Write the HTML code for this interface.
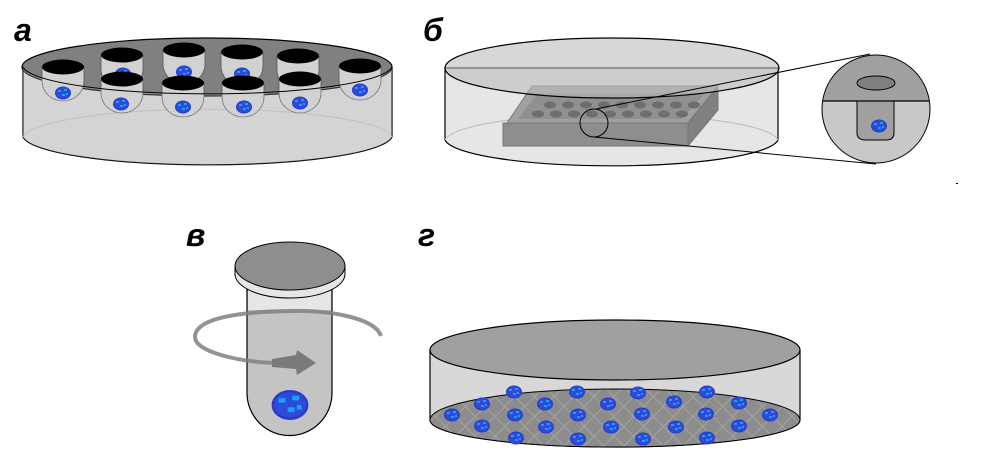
<!DOCTYPE html>
<html><head><meta charset="utf-8"><style>
html,body{margin:0;padding:0;background:#fff}
svg{display:block}
text{font-family:"Liberation Sans",sans-serif;font-weight:bold;font-style:italic;font-size:32px;fill:#000}
</style></head><body>
<svg width="1002" height="466" viewBox="0 0 1002 466" xmlns="http://www.w3.org/2000/svg">
<defs>
<g id="cell"><ellipse cx="0" cy="0" rx="7.5" ry="6" fill="#2d4bd6" stroke="#2a3ac8" stroke-width="1"/><rect x="-5" y="-3" width="3" height="2" fill="#1aa0ff"/><rect x="1" y="-4" width="3" height="2" fill="#1aa0ff"/><rect x="-1" y="1" width="3" height="2" fill="#1aa0ff"/><rect x="3" y="0" width="2" height="2" fill="#1aa0ff"/></g>
<pattern id="grid" width="14" height="14" patternUnits="userSpaceOnUse" patternTransform="rotate(45)"><rect width="14" height="14" fill="#8c8c8c"/><path d="M0 0H14M0 0V14" stroke="#a4a4a4" stroke-width="2"/></pattern>
<g id="cup"><path d="M-21 0V14A21 20 0 0 0 21 14V0Z" fill="#d2d2d2" stroke="#555" stroke-width="0.8"/><ellipse cx="0" cy="0" rx="21" ry="7.5" fill="#000"/></g>
</defs>
<!-- а -->
<text x="14" y="41">а</text>
<path d="M23 67V137A185 30 0 0 0 392 137V67Z" fill="#d4d4d4" stroke="#000" stroke-width="1.2"/>
<path d="M23 137A185 30 0 0 1 392 137" fill="none" stroke="#bbb"/>
<ellipse cx="207" cy="67" rx="185" ry="29" fill="#808080" stroke="#000" stroke-width="1.2"/>
<use href="#cup" x="122" y="55"/><use href="#cup" x="184" y="50"/><use href="#cup" x="242" y="52"/><use href="#cup" x="298" y="56"/>
<use href="#cell" x="123" y="74"/><use href="#cell" x="184" y="72"/><use href="#cell" x="242" y="74"/>
<use href="#cup" x="63" y="67"/><use href="#cup" x="122" y="79"/><use href="#cup" x="183" y="83"/><use href="#cup" x="243" y="83"/><use href="#cup" x="300" y="79"/><use href="#cup" x="360" y="66"/>
<path d="M23 67A185 29 0 0 0 392 67V137A185 30 0 0 1 23 137Z" fill="#d4d4d4" fill-opacity="0.25"/>
<use href="#cell" x="63" y="93"/><use href="#cell" x="121" y="104"/><use href="#cell" x="183" y="107"/><use href="#cell" x="244" y="107"/><use href="#cell" x="300" y="103"/><use href="#cell" x="360" y="90"/>
<path d="M23 67A185 29 0 0 0 392 67" fill="none" stroke="#000" stroke-width="1"/>
<!-- б -->
<text x="423" y="41">б</text>
<path d="M445 68V140A167 28 0 0 0 778 140V68Z" fill="#e6e6e6" stroke="#000" stroke-width="1.2"/>
<path d="M445 140A167 28 0 0 1 778 140" fill="none" stroke="#bbb"/>
<path d="M507 123L532 86H718L688 123Z" fill="#a0a0a0" stroke="#777"/>
<path d="M518 119L538 93H705L682 119Z" fill="#909090"/>
<g fill="#6e6e6e"><ellipse cx="550" cy="105" rx="6" ry="3.5"/><ellipse cx="568" cy="105" rx="6" ry="3.5"/><ellipse cx="586" cy="105" rx="6" ry="3.5"/><ellipse cx="604" cy="105" rx="6" ry="3.5"/><ellipse cx="622" cy="105" rx="6" ry="3.5"/><ellipse cx="640" cy="105" rx="6" ry="3.5"/><ellipse cx="658" cy="105" rx="6" ry="3.5"/><ellipse cx="676" cy="105" rx="6" ry="3.5"/><ellipse cx="694" cy="105" rx="6" ry="3.5"/>
<ellipse cx="538" cy="114" rx="6" ry="3.5"/><ellipse cx="556" cy="114" rx="6" ry="3.5"/><ellipse cx="574" cy="114" rx="6" ry="3.5"/><ellipse cx="592" cy="114" rx="6" ry="3.5"/><ellipse cx="610" cy="114" rx="6" ry="3.5"/><ellipse cx="628" cy="114" rx="6" ry="3.5"/><ellipse cx="646" cy="114" rx="6" ry="3.5"/><ellipse cx="664" cy="114" rx="6" ry="3.5"/><ellipse cx="682" cy="114" rx="6" ry="3.5"/></g>
<rect x="503" y="123" width="185" height="23" fill="#8e8e8e" stroke="#777"/>
<path d="M688 123L718 86V110L688 146Z" fill="#808080" stroke="#777"/>
<ellipse cx="612" cy="68" rx="167" ry="30" fill="#bdbdbd" fill-opacity="0.6" stroke="#000" stroke-width="1.2"/>
<circle cx="594" cy="123" r="14" fill="none" stroke="#000"/>
<line x1="596" y1="109" x2="870" y2="54" stroke="#000"/>
<line x1="594" y1="137" x2="876" y2="164" stroke="#000"/>
<clipPath id="cc"><circle cx="876" cy="109" r="54"/></clipPath>
<g clip-path="url(#cc)"><rect x="820" y="50" width="112" height="51" fill="#a0a0a0"/><rect x="820" y="101" width="112" height="70" fill="#c8c8c8"/>
<ellipse cx="876" cy="83" rx="19" ry="7" fill="#808080" stroke="#000"/>
<path d="M857 101V133Q857 140 866 140H886Q894 140 894 133V101" fill="#a0a0a0" stroke="#000"/>
<line x1="820" y1="101" x2="932" y2="101" stroke="#000" stroke-width="1.2"/></g>
<circle cx="876" cy="109" r="54" fill="none" stroke="#000"/>
<use href="#cell" x="879" y="126"/>
<rect x="956" y="183" width="2" height="1" fill="#000"/>
<!-- в -->
<text x="186" y="246">в</text>
<path d="M247 290V393A42 42 0 0 0 332 393V290Z" fill="#c4c4c4" stroke="#000" stroke-width="1.2"/>
<rect x="248" y="290" width="83" height="20" fill="#e6e6e6"/>
<path d="M235 266V274A55 24 0 0 0 345 274V266Z" fill="#e6e6e6" stroke="#000"/>
<ellipse cx="290" cy="266" rx="55" ry="24" fill="#8e8e8e" stroke="#000"/>
<path d="M381 336C375 318 330 310 290 311C220 312 195 323 195 337C195 352 240 362 275 363L300 363" fill="none" stroke="#808080" stroke-width="4" stroke-opacity="0.85"/>
<path d="M272 359L296 355L297 350L316 363L297 375L296 369L272 367Z" fill="#7a7a7a"/>
<g transform="translate(290,405) scale(2.3)"><use href="#cell"/></g>
<!-- г -->
<text x="418" y="246">г</text>
<path d="M430 350V420A185 27 0 0 0 800 420V350Z" fill="#d8d8d8" stroke="#000" stroke-width="1.2"/>
<path d="M430 420A185 31 0 0 1 800 420A185 27 0 0 1 430 420Z" fill="url(#grid)" stroke="#000"/>
<ellipse cx="615" cy="350" rx="185" ry="30" fill="#a0a0a0" stroke="#000" stroke-width="1.2"/>
<g>
<use href="#cell" x="514" y="392"/><use href="#cell" x="577" y="392"/><use href="#cell" x="638" y="393"/><use href="#cell" x="707" y="392"/>
<use href="#cell" x="482" y="404"/><use href="#cell" x="545" y="404"/><use href="#cell" x="608" y="404"/><use href="#cell" x="674" y="402"/><use href="#cell" x="739" y="403"/>
<use href="#cell" x="452" y="415"/><use href="#cell" x="515" y="415"/><use href="#cell" x="578" y="415"/><use href="#cell" x="642" y="414"/><use href="#cell" x="706" y="414"/><use href="#cell" x="770" y="415"/>
<use href="#cell" x="482" y="426"/><use href="#cell" x="546" y="427"/><use href="#cell" x="611" y="427"/><use href="#cell" x="676" y="427"/><use href="#cell" x="739" y="426"/>
<use href="#cell" x="516" y="438"/><use href="#cell" x="578" y="439"/><use href="#cell" x="643" y="439"/><use href="#cell" x="707" y="438"/>
</g>
</svg>
</body></html>
